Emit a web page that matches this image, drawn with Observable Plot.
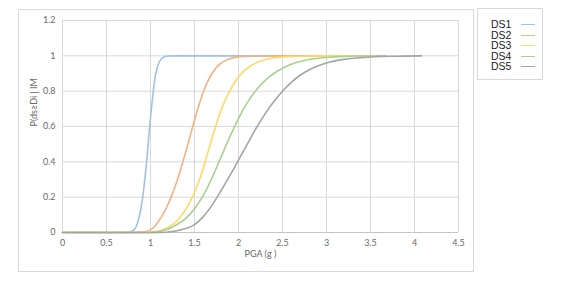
<!DOCTYPE html>
<html>
<head>
<meta charset="utf-8">
<script src="https://cdn.jsdelivr.net/npm/d3@7"></script>
<script src="https://cdn.jsdelivr.net/npm/@observablehq/plot@0.6"></script>
<style>
  html, body { margin: 0; padding: 0; background: #fff; }
  #wrap { position: relative; width: 579px; height: 287px; overflow: hidden; }
  #frame { position: absolute; left: 18px; top: 9px; width: 456px; height: 263px; border: 1px solid #d9d9d9; box-sizing: border-box; }
  #legend { position: absolute; left: 477px; top: 8px; width: 66px; height: 72px; border: 1px solid #d9d9d9; box-sizing: border-box; font-family: "Liberation Sans", Arial, sans-serif; font-size: 10.5px; color: #222; padding-top: 10px; }
  .item { position: relative; height: 10.6px; line-height: 10.6px; }
  .item span { position: absolute; left: 13px; top: 0; }
  .item i { position: absolute; left: 43px; top: 5px; width: 14px; height: 0; border-top: 1.5px solid; }
  #chart { position: absolute; left: 0; top: 0; }
</style>
</head>
<body>
<div id="wrap">
  <div id="frame"></div>
  <div id="chart"></div>
  <div id="legend"></div>
</div>
<script>
const seriesNames = ["DS1", "DS2", "DS3", "DS4", "DS5"];
const seriesColors = ["#9dc3e6", "#f4b183", "#ffd966", "#a9d18e", "#a5a5a5"];
const xTicks = [0, 0.5, 1, 1.5, 2, 2.5, 3, 3.5, 4, 4.5];
const yTicks = [0, 0.2, 0.4, 0.6, 0.8, 1, 1.2];

const ds1 = [[0,0],[0.6,0],[0.7,0],[0.75,0.001],[0.8,0.01],[0.85,0.05],[0.9,0.16],[0.95,0.37],[1.0,0.65],[1.05,0.87],[1.1,0.965],[1.15,0.993],[1.2,0.999],[1.3,1],[2.5,1]];
const ds2 = [[0,0],[0.8,0],[0.9,0.002],[1.0,0.015],[1.05,0.035],[1.1,0.07],[1.15,0.11],[1.2,0.16],[1.25,0.22],[1.3,0.29],[1.35,0.37],[1.4,0.455],[1.45,0.545],[1.5,0.635],[1.55,0.72],[1.6,0.795],[1.65,0.855],[1.7,0.9],[1.75,0.935],[1.8,0.958],[1.85,0.973],[1.9,0.983],[2.0,0.994],[2.2,0.999],[2.4,1],[3.0,1]];
const ds3 = [[0,0],[0.9,0],[1.0,0.002],[1.1,0.01],[1.2,0.03],[1.3,0.065],[1.35,0.095],[1.4,0.13],[1.45,0.175],[1.5,0.225],[1.55,0.29],[1.6,0.365],[1.65,0.45],[1.7,0.535],[1.75,0.615],[1.8,0.69],[1.85,0.75],[1.9,0.8],[1.95,0.845],[2.0,0.88],[2.1,0.93],[2.2,0.96],[2.3,0.978],[2.4,0.988],[2.5,0.993],[2.6,0.996],[2.8,0.999],[3.0,1],[3.5,1]];
const ds4 = [[0,0],[1.0,0],[1.1,0.005],[1.2,0.02],[1.3,0.045],[1.4,0.08],[1.5,0.135],[1.6,0.21],[1.7,0.31],[1.8,0.425],[1.9,0.54],[2.0,0.645],[2.1,0.735],[2.2,0.805],[2.3,0.86],[2.4,0.9],[2.5,0.93],[2.6,0.952],[2.7,0.968],[2.8,0.979],[3.0,0.991],[3.2,0.997],[3.4,0.999],[3.68,1]];
const ds5 = [[0,0],[1.1,0],[1.2,0.003],[1.3,0.01],[1.4,0.022],[1.5,0.045],[1.6,0.09],[1.7,0.155],[1.8,0.235],[1.9,0.32],[2.0,0.41],[2.1,0.5],[2.2,0.59],[2.3,0.67],[2.4,0.74],[2.5,0.8],[2.6,0.85],[2.7,0.89],[2.8,0.92],[2.9,0.943],[3.0,0.96],[3.2,0.98],[3.4,0.99],[3.6,0.996],[3.8,0.998],[4.08,1]];

const allSeries = [ds1, ds2, ds3, ds4, ds5];
const rows = allSeries.flatMap((s, i) => s.map(([x, y]) => ({series: seriesNames[i], x, y})));

const font = "Lato, 'Open Sans', sans-serif";

const chart = Plot.plot({
  width: 579,
  height: 287,
  marginLeft: 62,
  marginRight: 121,
  marginTop: 20,
  marginBottom: 55,
  style: {fontFamily: font, fontSize: "9px", color: "#6a6a6a", background: "transparent"},
  x: {domain: [0, 4.5]},
  y: {domain: [0, 1.2]},
  color: {domain: seriesNames, range: seriesColors},
  marks: [
    Plot.gridX(xTicks, {stroke: "#d9d9d9", strokeOpacity: 1}),
    Plot.gridY(yTicks, {stroke: "#d9d9d9", strokeOpacity: 1}),
    Plot.ruleY([0], {stroke: "#c4c4c4", strokeWidth: 1.2}),
    Plot.axisX(xTicks, {tickSize: 0, tickPadding: 7, tickFormat: d => `${d}`, label: null}),
    Plot.axisY(yTicks, {tickSize: 0, tickPadding: 7, tickFormat: d => `${d}`, label: null}),
    ...allSeries.map((s, i) => Plot.line(rows.filter(r => r.series === seriesNames[i]), {
      x: "x", y: "y", stroke: "series", strokeWidth: 1.6, curve: "monotone-x"
    })),
    Plot.text(["PGA (g )"], {frameAnchor: "bottom", dy: 24, fontSize: 9, fill: "#6a6a6a"}),
    Plot.text(["P(ds≥Di | IM"], {frameAnchor: "left", dx: -28, rotate: -90, fontSize: 9, fill: "#6a6a6a"})
  ]
});
document.getElementById("chart").appendChild(chart);

const legend = document.getElementById("legend");
seriesNames.forEach((name, i) => {
  const d = document.createElement("div");
  d.className = "item";
  d.innerHTML = `<span>${name}</span><i style="border-color:${seriesColors[i]}"></i>`;
  legend.appendChild(d);
});
</script>
</body>
</html>
